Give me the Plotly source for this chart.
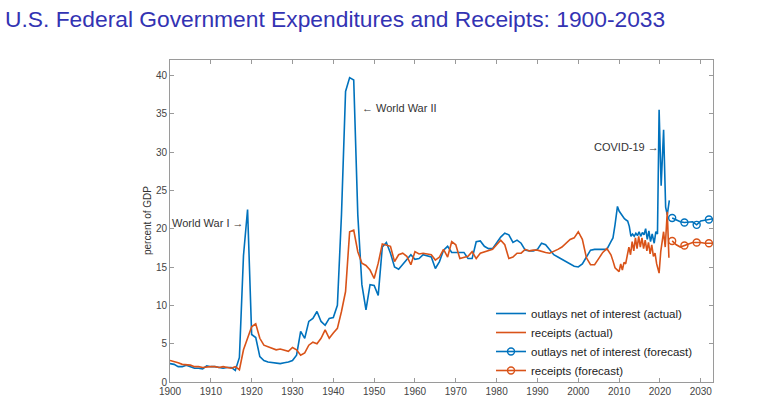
import numpy as np
import plotly.graph_objects as go

# ---------------- data ----------------
years_annual = list(range(1900, 2009))

outlays_annual = [
    2.4, 2.3, 2.0, 2.0, 2.2, 2.0, 1.8, 1.8, 1.7, 2.1,   # 1900-1909
    2.0, 2.0, 1.9, 1.8, 1.9, 1.9, 1.5, 3.2, 16.5, 22.5,  # 1910-1919
    6.2, 5.8, 3.3, 2.8, 2.6, 2.5, 2.5, 2.4, 2.5, 2.6,   # 1920-1929
    2.8, 3.5, 6.6, 5.7, 7.9, 8.3, 9.2, 7.9, 7.4, 8.3,   # 1930-1939
    8.4, 10.0, 21.8, 37.9, 39.7, 39.4, 21.8, 12.7, 9.4, 12.7,  # 1940-1949
    12.6, 11.3, 17.6, 18.2, 16.8, 15.0, 14.7, 15.3, 15.9, 16.6,  # 1950-1959
    16.0, 16.1, 16.6, 16.5, 16.3, 14.8, 15.7, 17.2, 17.7, 16.9,  # 1960-1969
    16.9, 16.9, 16.9, 16.1, 16.1, 18.3, 18.4, 17.7, 17.4, 17.4,  # 1970-1979
    18.2, 18.9, 19.4, 19.2, 18.2, 18.5, 18.1, 17.2, 17.1, 17.1,  # 1980-1989
    17.3, 18.1, 17.9, 17.2, 16.6, 16.3, 16.0, 15.6, 15.3, 15.1,  # 1990-1999
    15.0, 15.4, 16.3, 17.2, 17.3, 17.3, 17.3, 17.3, 18.3,        # 2000-2008
]

receipts_annual = [
    2.8, 2.7, 2.5, 2.3, 2.2, 2.2, 2.0, 2.0, 1.9, 2.0,   # 1900-1909
    2.0, 2.0, 1.9, 2.0, 1.9, 1.8, 2.0, 1.6, 4.2, 5.8,   # 1910-1919
    7.2, 7.6, 5.7, 4.8, 4.6, 4.5, 4.2, 4.3, 4.2, 4.0,   # 1920-1929
    4.5, 4.2, 3.5, 3.8, 4.8, 5.2, 5.0, 5.7, 6.8, 5.7,   # 1930-1939
    6.4, 7.0, 9.2, 11.8, 19.6, 19.8, 17.0, 15.5, 15.2, 14.6,  # 1940-1949
    13.5, 15.5, 18.0, 17.9, 17.7, 15.7, 16.6, 16.8, 16.4, 15.3,  # 1950-1959
    17.0, 16.7, 16.8, 16.7, 16.6, 15.9, 16.3, 17.3, 16.3, 18.3,  # 1960-1969
    17.9, 16.1, 16.3, 16.4, 17.0, 16.1, 16.8, 17.0, 17.1, 17.3,  # 1970-1979
    17.9, 18.5, 17.9, 16.1, 16.3, 16.8, 16.8, 17.3, 17.1, 17.2,  # 1980-1989
    17.2, 17.0, 16.9, 16.8, 17.0, 17.3, 17.6, 18.1, 18.6, 18.8,  # 1990-1999
    19.6, 18.6, 16.2, 15.3, 15.3, 16.1, 16.9, 17.4, 16.6,        # 2000-2008
]

# higher-frequency recent observations
outlays_recent_x = [2008.5, 2009.0, 2009.6, 2010.0, 2010.4, 2010.9, 2011.3, 2011.8, 2012.1,
                    2012.5, 2012.9, 2013.3, 2013.7, 2014.1, 2014.5, 2014.9, 2015.3, 2015.7,
                    2016.1, 2016.5, 2016.9, 2017.3, 2017.7, 2018.1, 2018.6, 2019.0, 2019.4,
                    2019.8, 2020.3, 2020.9, 2021.4, 2021.8, 2022.3]
outlays_recent = [18.8, 20.5, 22.9, 22.3, 22.0, 21.6, 21.3, 21.1, 21.0,
                  20.3, 19.0, 19.3, 19.0, 19.4, 19.1, 19.6, 19.0, 19.5,
                  19.2, 20.0, 18.6, 19.7, 18.3, 19.3, 18.1, 19.6, 19.3,
                  35.5, 25.6, 32.9, 22.8, 21.8, 23.7]

receipts_recent_x = [2008.5, 2009.0, 2009.6, 2010.0, 2010.4, 2010.8, 2011.2, 2011.6, 2012.0,
                     2012.4, 2012.8, 2013.2, 2013.6, 2014.0, 2014.4, 2014.8, 2015.2, 2015.6,
                     2016.0, 2016.4, 2016.8, 2017.2, 2017.6, 2018.0, 2018.4, 2018.8, 2019.2,
                     2019.6, 2019.8, 2020.2, 2020.6, 2020.9, 2021.3, 2021.8, 2022.2]
receipts_recent = [15.8, 14.9, 14.6, 14.4, 15.4, 14.6, 15.6, 15.4, 16.5,
                   17.6, 16.6, 18.3, 17.1, 18.8, 17.4, 19.0, 17.6, 18.8,
                   17.4, 18.5, 17.1, 18.2, 16.7, 17.9, 16.4, 16.8, 15.4,
                   14.6, 14.2, 17.0, 19.0, 19.6, 17.6, 22.2, 16.2]

forecast_years = list(range(2023, 2034))
outlays_forecast = [21.4, 21.1, 20.9, 20.8, 20.9, 20.9, 20.5, 21.0, 21.1, 21.2, 21.3]
receipts_forecast = [18.4, 17.9, 17.6, 17.8, 18.1, 18.2, 18.2, 18.2, 18.1, 18.1, 18.1]
marker_years = [2023, 2026, 2029, 2032]

x_ticks = list(range(1900, 2040, 10))
y_ticks = list(range(0, 45, 5))

title_text = "U.S. Federal Government Expenditures and Receipts: 1900-2033"
labels = ["outlays net of interest (actual)", "receipts (actual)",
          "outlays net of interest (forecast)", "receipts (forecast)"]

# ---------------- styles ----------------
BLUE = "#0072BD"
ORANGE = "#D95319"
TXT = "#333333"
AX = "#9a9a9a"
LW = 1.6

outlays_x = years_annual + outlays_recent_x
outlays_y = outlays_annual + outlays_recent
receipts_x = years_annual + receipts_recent_x
receipts_y = receipts_annual + receipts_recent

mk_out = [y for x, y in zip(forecast_years, outlays_forecast) if x in marker_years]
mk_rec = [y for x, y in zip(forecast_years, receipts_forecast) if x in marker_years]

fig = go.Figure()
fig.add_trace(go.Scatter(x=outlays_x, y=outlays_y, mode="lines", name=labels[0],
                         line=dict(color=BLUE, width=LW)))
fig.add_trace(go.Scatter(x=receipts_x, y=receipts_y, mode="lines", name=labels[1],
                         line=dict(color=ORANGE, width=LW)))
# forecast lines
for fy, col in ((outlays_forecast, BLUE), (receipts_forecast, ORANGE)):
    fig.add_trace(go.Scatter(x=forecast_years, y=fy, mode="lines", showlegend=False,
                             line=dict(color=col, width=LW)))
for my, col in ((mk_out, BLUE), (mk_rec, ORANGE)):
    fig.add_trace(go.Scatter(x=marker_years, y=my, mode="markers", showlegend=False,
                             marker=dict(symbol="circle-open", size=7, color=col,
                                         line=dict(width=1.4, color=col))))
# legend entries for forecasts
for name, col in ((labels[2], BLUE), (labels[3], ORANGE)):
    fig.add_trace(go.Scatter(x=[None], y=[None], mode="lines+markers", name=name,
                             line=dict(color=col, width=LW),
                             marker=dict(symbol="circle-open", size=7, color=col,
                                         line=dict(width=1.4, color=col))))

axis_common = dict(showgrid=False, zeroline=False, showline=True, linecolor=AX, linewidth=1,
                   mirror="ticks", ticks="inside", ticklen=4, tickcolor=AX,
                   tickfont=dict(family="Liberation Sans, Arial, sans-serif", size=10, color="#444444"))

fig.update_xaxes(range=[1900, 2033], tickvals=x_ticks, ticktext=[str(v) for v in x_ticks],
                 **axis_common)
fig.update_yaxes(range=[0, 42], tickvals=y_ticks, ticktext=[str(v) for v in y_ticks],
                 **axis_common)

annot_font = dict(family="Liberation Sans, Arial, sans-serif", size=11, color=TXT)
fig.add_annotation(x=1918.6, y=20.7, text="World War I →", showarrow=False,
                   xanchor="right", yanchor="middle", font=annot_font)
fig.add_annotation(x=1946.5, y=35.7, text="← World War II", showarrow=False,
                   xanchor="left", yanchor="middle", font=annot_font)
fig.add_annotation(x=2020.2, y=30.7, text="COVID-19 →", showarrow=False,
                   xanchor="right", yanchor="middle", font=annot_font)
fig.add_annotation(xref="paper", yref="paper", x=(147 - 170) / 543, y=0.5,
                   text="percent of GDP", textangle=-90, showarrow=False,
                   xanchor="center", yanchor="middle",
                   font=dict(family="Liberation Sans, Arial, sans-serif", size=10, color=TXT))

fig.update_layout(
    width=768, height=403,
    margin=dict(l=170, r=55, t=60, b=21, autoexpand=False),
    paper_bgcolor="white", plot_bgcolor="white",
    title=dict(text=title_text, x=5 / 768, xanchor="left", y=1 - 19 / 403, yanchor="middle",
               font=dict(family="Liberation Sans, Arial, sans-serif", size=22.8,
                         color="#3333B3")),
    legend=dict(x=(491 - 170) / 543, y=(382 - 299) / 322, xanchor="left", yanchor="top",
                bgcolor="rgba(255,255,255,0)", borderwidth=0,
                tracegroupgap=0, itemwidth=30,
                font=dict(family="Liberation Sans, Arial, sans-serif", size=11.5, color="#222222")),
    showlegend=True,
)

fig.write_html("out.html")
